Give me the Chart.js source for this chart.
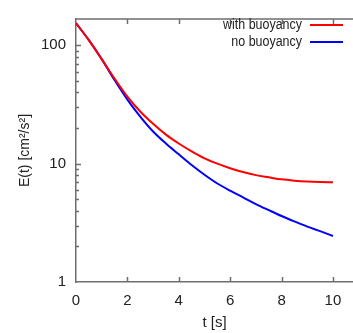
<!DOCTYPE html>
<html lang="en">
<head>
  <meta charset="UTF-8" />
  <title>E(t)</title>
  <script src="https://cdn.jsdelivr.net/npm/chart.js"></script>
  <style>
    html, body { margin: 0; padding: 0; background: #fff; }
    #wrap { width: 353px; height: 333px; }
  </style>
</head>
<body>
  <div id="wrap"><canvas id="chart"></canvas></div>
  <script>
    // data
    const times = [0, 0.5, 1, 1.5, 2, 2.5, 3, 3.5, 4, 4.5, 5, 5.5, 6, 6.5, 7, 7.5, 8, 8.5, 9, 9.5, 10];
    const withBuoyancy = [154, 110.7, 76.5, 52.4, 36.9, 27.6, 21.7, 17.6, 14.8, 12.7, 11.1, 10.0, 9.15, 8.5, 8.0, 7.67, 7.37, 7.19, 7.07, 7.0, 6.96];
    const noBuoyancy = [154, 110.7, 76.5, 50.9, 34.8, 25.0, 18.7, 14.8, 12.0, 9.74, 8.06, 6.8, 5.91, 5.2, 4.56, 4.05, 3.61, 3.25, 2.94, 2.69, 2.45];
    const xTicks = [0, 2, 4, 6, 8, 10];
    const yTicks = [1, 10, 100];

    const FONT = "'Liberation Sans', Arial, sans-serif";
    const AXIS = '#6e6e6e';

    const toPoints = (ys) => times.map((t, i) => ({ x: t, y: ys[i] }));

    // gnuplot-like frame: inward ticks, top border, legend with text then line
    const framePlugin = {
      id: 'frame',
      afterDraw(chart) {
        const c = chart.ctx, a = chart.chartArea;
        const xs = chart.scales.x, ys = chart.scales.y;
        c.save();
        c.strokeStyle = AXIS;
        c.lineWidth = 1.5;
        c.beginPath();
        c.moveTo(a.left, a.top); c.lineTo(a.right, a.top);
        xTicks.forEach(v => {
          if (v === 0) return;
          const px = Math.round(xs.getPixelForValue(v)) + 0.5;
          c.moveTo(px, a.bottom); c.lineTo(px, a.bottom - 5);
          c.moveTo(px, a.top); c.lineTo(px, a.top + 5);
        });
        for (let d = 1; d <= 100; d *= 10) {
          for (let m = 1; m <= 9; m++) {
            const v = d * m;
            if (v <= 1 || v > ys.max) continue;
            const py = Math.round(ys.getPixelForValue(v)) + 0.5;
            const len = m === 1 ? 5 : 3;
            c.moveTo(a.left, py); c.lineTo(a.left + len, py);
          }
        }
        c.stroke();

        // legend (text is narrow in the original, so squeeze it a little)
        c.font = '14px ' + FONT;
        c.textAlign = 'right';
        c.textBaseline = 'middle';
        chart.data.datasets.forEach((ds, i) => {
          const y = 25 + i * 17;
          c.save();
          c.translate(302, y);
          c.scale(0.89, 1);
          c.fillStyle = '#222';
          c.fillText(ds.label, 0, 0);
          c.restore();
          c.strokeStyle = ds.borderColor;
          c.lineWidth = 2;
          c.beginPath();
          c.moveTo(310, y); c.lineTo(343, y);
          c.stroke();
        });
        c.restore();
      }
    };

    new Chart(document.getElementById('chart'), {
      type: 'line',
      data: {
        datasets: [
          { label: 'with buoyancy', data: toPoints(withBuoyancy), borderColor: '#ff0000', borderWidth: 2, pointRadius: 0, cubicInterpolationMode: 'monotone' },
          { label: 'no buoyancy', data: toPoints(noBuoyancy), borderColor: '#0000ff', borderWidth: 2, pointRadius: 0, cubicInterpolationMode: 'monotone' }
        ]
      },
      options: {
        responsive: true,
        maintainAspectRatio: false,
        animation: false,
        layout: { padding: { top: 13, right: 0, left: 0, bottom: 0 } },
        plugins: { legend: { display: false }, tooltip: { enabled: false } },
        scales: {
          x: {
            type: 'linear',
            min: 0,
            max: 10.78,
            afterBuildTicks: (s) => { s.ticks = xTicks.map(v => ({ value: v })); },
            afterFit: (s) => { s.height = 51; },
            grid: { display: false, drawTicks: false },
            border: { color: AXIS, width: 1.5 },
            ticks: { color: '#222', padding: 10, font: { family: FONT, size: 15 }, maxRotation: 0 },
            title: { display: true, text: 't [s]', color: '#222', font: { family: FONT, size: 15 }, padding: { top: 3, bottom: 1 } }
          },
          y: {
            type: 'logarithmic',
            min: 1,
            max: 167,
            afterBuildTicks: (s) => { s.ticks = yTicks.map(v => ({ value: v })); },
            afterFit: (s) => { s.width = 76; },
            grid: { display: false, drawTicks: false },
            border: { color: AXIS, width: 1.5 },
            ticks: { color: '#222', padding: 10, font: { family: FONT, size: 15 }, callback: (v) => String(v) },
            title: { display: true, text: 'E(t) [cm²/s²]', color: '#222', font: { family: FONT, size: 14 }, padding: { top: 17, bottom: 2 } }
          }
        }
      },
      plugins: [framePlugin]
    });
  </script>
</body>
</html>
